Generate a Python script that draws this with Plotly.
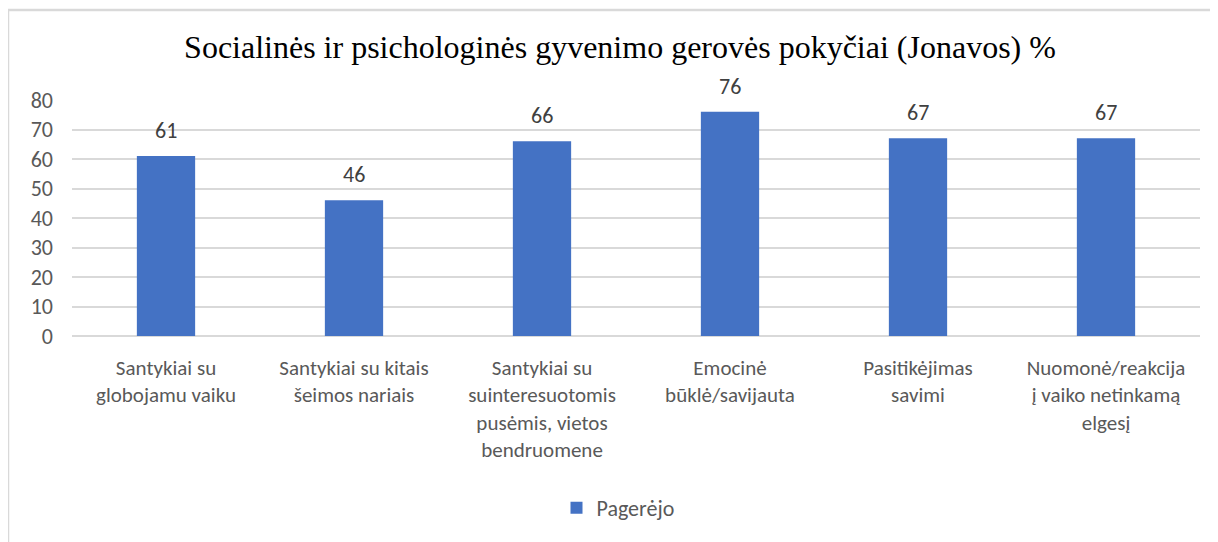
import plotly.graph_objects as go

categories = [
    "Santykiai su<br>globojamu vaiku",
    "Santykiai su kitais<br>šeimos nariais",
    "Santykiai su<br>suinteresuotomis<br>pusėmis, vietos<br>bendruomene",
    "Emocinė<br>būklė/savijauta",
    "Pasitikėjimas<br>savimi",
    "Nuomonė/reakcija<br>į vaiko netinkamą<br>elgesį",
]
values = [61, 46, 66, 76, 67, 67]
series_name = "Pagerėjo"
title_text = "Socialinės ir psichologinės gyvenimo gerovės pokyčiai (Jonavos) %"
y_ticks = [0, 10, 20, 30, 40, 50, 60, 70, 80]

SANS = "Carlito, Lato, 'Liberation Sans', sans-serif"

# page is offset by the default 8px body margin
OFF = 8
PAGE_W, PAGE_H = 1218, 542
W, H = PAGE_W - OFF, PAGE_H - OFF
PLOT_L, PLOT_R, PLOT_T, PLOT_B = 72, 1200, 100, 336  # page coords
L = PLOT_L - OFF
T = PLOT_T - OFF
R = W - (PLOT_R - OFF)
B = H - (PLOT_B - OFF)
pw = W - L - R
ph = H - T - B


def px_x(page_x):
    return (page_x - OFF - L) / pw


def px_y(page_y):
    return (PLOT_B - page_y) / ph


fig = go.Figure()
fig.add_trace(go.Bar(
    x=categories,
    y=values,
    name=series_name,
    marker=dict(color="#4472C4", line=dict(width=0)),
    showlegend=True,
))

for c, v in zip(categories, values):
    fig.add_annotation(
        x=c, y=v, xref="x", yref="y",
        text=str(v), showarrow=False,
        yanchor="bottom", yshift=10,
        font=dict(family=SANS, size=22, color="#404040"),
    )

border = dict(color="#d9d9d9", width=2.5)
fig.add_shape(type="line", xref="paper", yref="paper",
              x0=px_x(8), x1=px_x(8), y0=px_y(10), y1=px_y(560), line=border)
fig.add_shape(type="line", xref="paper", yref="paper",
              x0=px_x(7), x1=px_x(1240), y0=px_y(10), y1=px_y(10), line=border)

fig.update_layout(
    width=W, height=H,
    margin=dict(l=L, r=R, t=T, b=B, pad=0),
    paper_bgcolor="white",
    plot_bgcolor="white",
    bargap=0.69,
    title=dict(
        text=title_text,
        font=dict(family="'Liberation Serif', 'Times New Roman', serif", size=32, color="#000000"),
        xref="container", x=(620 - OFF) / W, xanchor="center",
        yref="container", y=1 - (47 - OFF) / H, yanchor="middle",
    ),
    legend=dict(
        orientation="h",
        x=px_x(618), xanchor="center",
        y=px_y(508), yanchor="middle",
        font=dict(family=SANS, size=22, color="#595959"),
        itemwidth=30,
    ),
    xaxis=dict(
        tickfont=dict(family=SANS, size=21, color="#595959"),
        showline=False,
        ticks="",
        tickangle=0,
        ticklabelstandoff=17,
    ),
    yaxis=dict(
        range=[0, 80],
        tickvals=y_ticks,
        tickfont=dict(family=SANS, size=22, color="#595959"),
        showgrid=True,
        gridcolor="#d9d9d9",
        gridwidth=1.5,
        zeroline=True,
        zerolinecolor="#d9d9d9",
        zerolinewidth=1.5,
        showline=False,
        ticks="",
        ticklabelstandoff=18,
    ),
)

fig.write_html("out.html")
